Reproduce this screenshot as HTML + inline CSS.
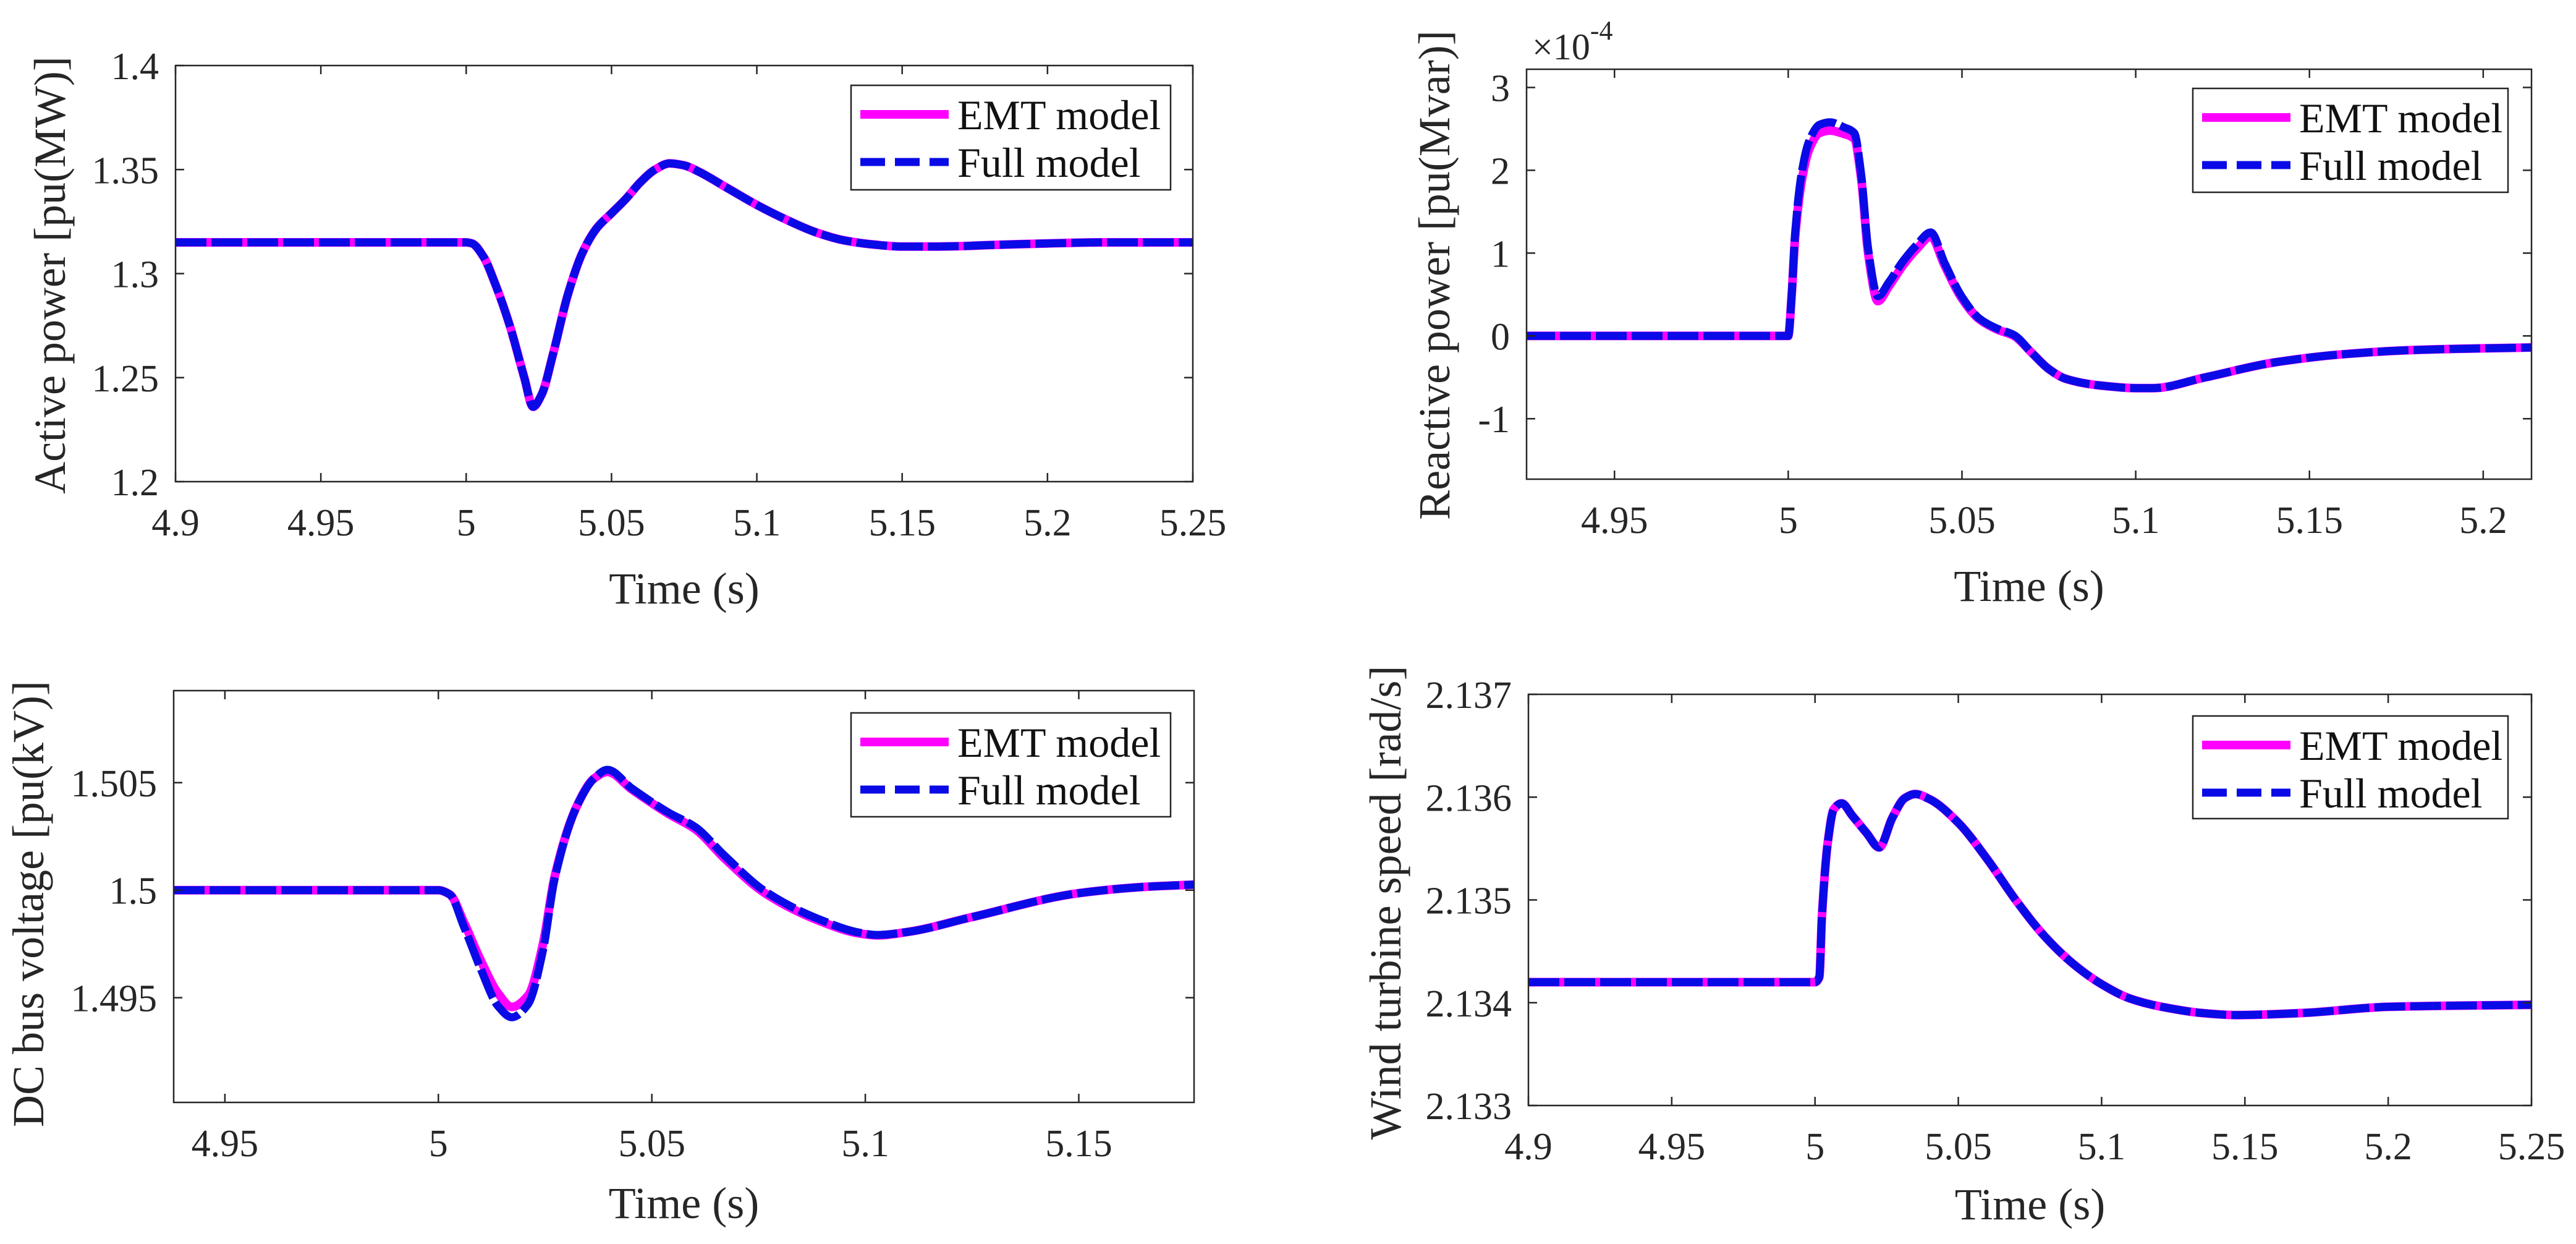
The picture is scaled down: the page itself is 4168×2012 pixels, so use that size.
<!DOCTYPE html>
<html><head><meta charset="utf-8"><style>
html,body{margin:0;padding:0;background:#fff;}
svg{display:block;font-family:"Liberation Serif",serif;}
text{font-family:"Liberation Serif",serif;}
</style></head><body>
<svg id="fig" width="4168" height="2012" viewBox="0 0 4168 2012" xmlns="http://www.w3.org/2000/svg">
<rect x="0" y="0" width="4168" height="2012" fill="#fff"/>
</svg>
<script>
// ---- Panel 1: Active power ----
const p1Time = [4.9,5.0,5.002,5.006,5.01,5.015,5.02,5.023,5.026,5.03,5.035,5.04,5.045,5.05,5.055,5.06,5.065,5.07,5.075,5.08,5.09,5.1,5.11,5.12,5.13,5.14,5.15,5.16,5.17,5.18,5.2,5.22,5.25];
const p1Emt  = [1.315,1.315,1.3145,1.308,1.295,1.275,1.250,1.236,1.242,1.262,1.290,1.310,1.322,1.329,1.336,1.344,1.350,1.353,1.352,1.349,1.341,1.333,1.326,1.320,1.316,1.314,1.313,1.313,1.3132,1.3137,1.3145,1.315,1.315];
const p1Full = [1.315,1.315,1.3145,1.308,1.295,1.275,1.250,1.236,1.242,1.262,1.290,1.310,1.322,1.329,1.336,1.344,1.350,1.353,1.352,1.349,1.341,1.333,1.326,1.320,1.316,1.314,1.313,1.313,1.3132,1.3137,1.3145,1.315,1.315];
const p1XTicks = [4.9,4.95,5,5.05,5.1,5.15,5.2,5.25];
const p1XLabels = ["4.9","4.95","5","5.05","5.1","5.15","5.2","5.25"];
const p1YTicks = [1.2,1.25,1.3,1.35,1.4];
const p1YLabels = ["1.2","1.25","1.3","1.35","1.4"];

// ---- Panel 2: Reactive power (x1e-4) ----
const p2Time = [4.924,5.0,5.001,5.002,5.004,5.006,5.009,5.012,5.016,5.019,5.021,5.023,5.0258,5.029,5.033,5.037,5.041,5.045,5.05,5.055,5.06,5.065,5.07,5.075,5.08,5.09,5.1,5.105,5.12,5.14,5.16,5.18,5.2,5.214];
const p2Emt  = [0,0,0.5,1.2,1.9,2.25,2.45,2.48,2.44,2.38,1.9,1.0,0.42,0.6,0.85,1.05,1.2,0.85,0.45,0.2,0.08,0.0,-0.2,-0.4,-0.52,-0.6,-0.63,-0.63,-0.5,-0.32,-0.22,-0.17,-0.15,-0.14];
const p2Full = [0,0,0.5,1.25,2.0,2.35,2.55,2.58,2.52,2.45,1.95,1.05,0.48,0.65,0.9,1.1,1.25,0.88,0.47,0.21,0.09,0.01,-0.2,-0.4,-0.52,-0.6,-0.63,-0.63,-0.5,-0.32,-0.22,-0.17,-0.15,-0.14];
const p2XTicks = [4.95,5,5.05,5.1,5.15,5.2];
const p2XLabels = ["4.95","5","5.05","5.1","5.15","5.2"];
const p2YTicks = [-1,0,1,2,3];
const p2YLabels = ["-1","0","1","2","3"];

// ---- Panel 3: DC bus voltage ----
const p3Time = [4.938,5.0,5.0027,5.006,5.01,5.014,5.0172,5.021,5.0245,5.0272,5.0325,5.0365,5.0396,5.0454,5.0538,5.0603,5.0668,5.0765,5.0895,5.0985,5.1027,5.11,5.1248,5.15,5.165,5.177];
const p3Emt  = [1.5,1.5,1.4998,1.4985,1.4967,1.4952,1.49457,1.4951,1.4975,1.5006,1.50394,1.5052,1.5055,1.50467,1.50356,1.50282,1.50152,1.49986,1.49855,1.49799,1.4979,1.49806,1.49874,1.49986,1.50015,1.50026];
const p3Full = [1.5,1.5,1.4998,1.4983,1.4963,1.4946,1.49409,1.4947,1.4972,1.5005,1.50394,1.5052,1.5056,1.50472,1.50362,1.50292,1.50165,1.49995,1.49862,1.49803,1.49792,1.49806,1.49874,1.49986,1.50015,1.50026];
const p3XTicks = [4.95,5,5.05,5.1,5.15];
const p3XLabels = ["4.95","5","5.05","5.1","5.15"];
const p3YTicks = [1.495,1.5,1.505];
const p3YLabels = ["1.495","1.5","1.505"];

// ---- Panel 4: Wind turbine speed ----
const p4Time = [4.9,5.0,5.0015,5.0024,5.0045,5.0065,5.0093,5.013,5.018,5.0224,5.027,5.0313,5.035,5.04,5.05,5.06,5.07,5.08,5.09,5.1,5.11,5.121,5.135,5.147,5.17,5.2,5.25];
const p4Emt  = [2.1342,2.1342,2.13425,2.13483,2.13557,2.13588,2.13594,2.13582,2.13565,2.13551,2.1358,2.13599,2.13603,2.13598,2.13575,2.1354,2.135,2.13465,2.13438,2.13418,2.13404,2.13396,2.1339,2.13388,2.1339,2.13396,2.13398];
const p4Full = [2.1342,2.1342,2.13425,2.13483,2.13557,2.13588,2.13594,2.13582,2.13565,2.13551,2.1358,2.13599,2.13603,2.13598,2.13575,2.1354,2.135,2.13465,2.13438,2.13418,2.13404,2.13396,2.1339,2.13388,2.1339,2.13396,2.13398];
const p4XTicks = [4.9,4.95,5,5.05,5.1,5.15,5.2,5.25];
const p4XLabels = ["4.9","4.95","5","5.05","5.1","5.15","5.2","5.25"];
const p4YTicks = [2.133,2.134,2.135,2.136,2.137];
const p4YLabels = ["2.133","2.134","2.135","2.136","2.137"];

const legendNames = ["EMT model","Full model"];

const NS = "http://www.w3.org/2000/svg";
const svg = document.getElementById('fig');
const INK = "#262626";
const FONT = '"Liberation Serif", serif';

function mk(tag, attrs, parent) {
  const e = document.createElementNS(NS, tag);
  for (const k in attrs) e.setAttribute(k, attrs[k]);
  (parent || svg).appendChild(e);
  return e;
}
// monotone cubic (Fritsch-Carlson) path
function smoothPath(xs, ys) {
  const n = xs.length;
  const dx = [], m = [];
  for (let i = 0; i < n - 1; i++) { dx.push(xs[i+1] - xs[i]); m.push((ys[i+1] - ys[i]) / (xs[i+1] - xs[i])); }
  const t = new Array(n);
  t[0] = m[0]; t[n-1] = m[n-2];
  for (let i = 1; i < n - 1; i++) {
    if (m[i-1] * m[i] <= 0) t[i] = 0;
    else {
      const w1 = 2 * dx[i] + dx[i-1], w2 = dx[i] + 2 * dx[i-1];
      t[i] = (w1 + w2) / (w1 / m[i-1] + w2 / m[i]);
    }
  }
  let d = "M" + xs[0].toFixed(1) + "," + ys[0].toFixed(1);
  for (let i = 0; i < n - 1; i++) {
    const h = dx[i] / 3;
    d += " C" + (xs[i] + h).toFixed(1) + "," + (ys[i] + t[i] * h).toFixed(1) + " " +
         (xs[i+1] - h).toFixed(1) + "," + (ys[i+1] - t[i+1] * h).toFixed(1) + " " +
         xs[i+1].toFixed(1) + "," + ys[i+1].toFixed(1);
  }
  return d;
}

function panel(cfg) {
  const g = mk('g', {});
  
  
  const sx = v => cfg.L + (v - cfg.x0) / (cfg.x1 - cfg.x0) * (cfg.R - cfg.L);
  const sy = v => cfg.B - (v - cfg.y0) / (cfg.y1 - cfg.y0) * (cfg.B - cfg.T);
  const clipId = cfg.name + "-clip";
  const defs = mk('defs', {}, g);
  const cp = mk('clipPath', {id: clipId}, defs);
  mk('rect', {x: cfg.L, y: cfg.T, width: cfg.R - cfg.L, height: cfg.B - cfg.T}, cp);

  const emt = mk('path', {d: smoothPath(cfg.t.map(sx), cfg.emt.map(sy)), fill: 'none', stroke: '#ff00ff', 'stroke-width': 14, 'stroke-linejoin': 'round', 'clip-path': 'url(#' + clipId + ')'}, g);
  
  
  const full = mk('path', {d: smoothPath(cfg.t.map(sx), cfg.full.map(sy)), fill: 'none', stroke: '#0a0ae6', 'stroke-width': 13, 'stroke-dasharray': '50 8', 'stroke-linejoin': 'round', 'clip-path': 'url(#' + clipId + ')'}, g);
  
  

  const box = mk('rect', {x: cfg.L, y: cfg.T, width: cfg.R - cfg.L, height: cfg.B - cfg.T, fill: 'none', stroke: INK, 'stroke-width': 2.5}, g);
  
  

  cfg.xt.forEach((v, i) => {
    const x = sx(v);
    mk('line', {x1: x, y1: cfg.B, x2: x, y2: cfg.B - 14, stroke: INK, 'stroke-width': 2.5}, g);
    mk('line', {x1: x, y1: cfg.T, x2: x, y2: cfg.T + 14, stroke: INK, 'stroke-width': 2.5}, g);
    const tx = mk('text', {x: x, y: cfg.B + 87, 'font-size': 62, 'font-family': FONT, fill: INK, 'text-anchor': 'middle'}, g);
    tx.textContent = cfg.xl[i];
    
    
  });
  cfg.yt.forEach((v, i) => {
    const y = sy(v);
    mk('line', {x1: cfg.L, y1: y, x2: cfg.L + 14, y2: y, stroke: INK, 'stroke-width': 2.5}, g);
    mk('line', {x1: cfg.R, y1: y, x2: cfg.R - 14, y2: y, stroke: INK, 'stroke-width': 2.5}, g);
    const ty = mk('text', {x: cfg.L - 27, y: y + 22, 'font-size': 62, 'font-family': FONT, fill: INK, 'text-anchor': 'end'}, g);
    ty.textContent = cfg.yl[i];
    
    
  });
  const xt = mk('text', {x: (cfg.L + cfg.R) / 2, y: cfg.timeY, 'font-size': 72, 'font-family': FONT, fill: INK, 'text-anchor': 'middle'}, g);
  xt.textContent = "Time (s)";
  
  
  const yt = mk('text', {x: 0, y: 0, 'font-size': 72, 'font-family': FONT, fill: INK, 'text-anchor': 'middle', transform: 'translate(' + cfg.ylx + ',' + cfg.yly + ') rotate(-90)'}, g);
  yt.textContent = cfg.ytitle;
  
  

  const lg = mk('g', {}, g);
  
  
  mk('rect', {x: cfg.lx, y: cfg.ly, width: cfg.lw, height: cfg.lh, fill: '#fff', stroke: INK, 'stroke-width': 2.5}, lg);
  const rows = [cfg.ly + 47, cfg.ly + 124];
  legendNames.forEach((nm, i) => {
    const ent = mk('g', {}, lg);
    
    
    const attrs = {x1: cfg.lx + 15, y1: rows[i], x2: cfg.lx + 158, y2: rows[i], 'stroke-width': 14};
    if (i === 0) { attrs.stroke = '#ff00ff'; } else { attrs.stroke = '#0a0ae6'; attrs['stroke-dasharray'] = '40 16'; attrs['stroke-width'] = 13; }
    mk('line', attrs, ent);
    const t = mk('text', {x: cfg.lx + 172, y: rows[i] + 24, 'font-size': 68, 'font-family': FONT, fill: '#111'}, ent);
    t.textContent = nm;
  });
  return g;
}

panel({name: 'active-power-panel', L: 284, R: 1930, T: 106, B: 779, x0: 4.9, x1: 5.25, y0: 1.2, y1: 1.4,
  t: p1Time, emt: p1Emt, full: p1Full, xt: p1XTicks, xl: p1XLabels, yt: p1YTicks, yl: p1YLabels,
  ytitle: "Active power [pu(MW)]", ylx: 105, yly: 445, timeY: 976,
  lx: 1377, ly: 138, lw: 517, lh: 169});
panel({name: 'reactive-power-panel', L: 2470, R: 4096, T: 112, B: 775, x0: 4.9247, x1: 5.2139, y0: -1.73, y1: 3.22,
  t: p2Time, emt: p2Emt, full: p2Full, xt: p2XTicks, xl: p2XLabels, yt: p2YTicks, yl: p2YLabels,
  ytitle: "Reactive power [pu(Mvar)]", ylx: 2345, yly: 445, timeY: 972,
  lx: 3548, ly: 143, lw: 510, lh: 168});
panel({name: 'dc-bus-voltage-panel', L: 281, R: 1932, T: 1117, B: 1783, x0: 4.938, x1: 5.177, y0: 1.49013, y1: 1.50928,
  t: p3Time, emt: p3Emt, full: p3Full, xt: p3XTicks, xl: p3XLabels, yt: p3YTicks, yl: p3YLabels,
  ytitle: "DC bus voltage [pu(kV)]", ylx: 70, yly: 1462, timeY: 1970,
  lx: 1377, ly: 1153, lw: 517, lh: 168});
panel({name: 'wind-turbine-speed-panel', L: 2473, R: 4096, T: 1123, B: 1788, x0: 4.9, x1: 5.25, y0: 2.133, y1: 2.137,
  t: p4Time, emt: p4Emt, full: p4Full, xt: p4XTicks, xl: p4XLabels, yt: p4YTicks, yl: p4YLabels,
  ytitle: "Wind turbine speed [rad/s]", ylx: 2266, yly: 1460, timeY: 1972,
  lx: 3548, ly: 1158, lw: 510, lh: 166});

const ex = mk('text', {x: 2479, y: 96, 'font-size': 60, 'font-family': FONT, fill: INK});


const ex1 = mk('tspan', {}, ex); ex1.textContent = "\u00d710";
const ex2 = mk('tspan', {dy: -32, 'font-size': 44}, ex); ex2.textContent = "-4";
</script>
</body></html>
